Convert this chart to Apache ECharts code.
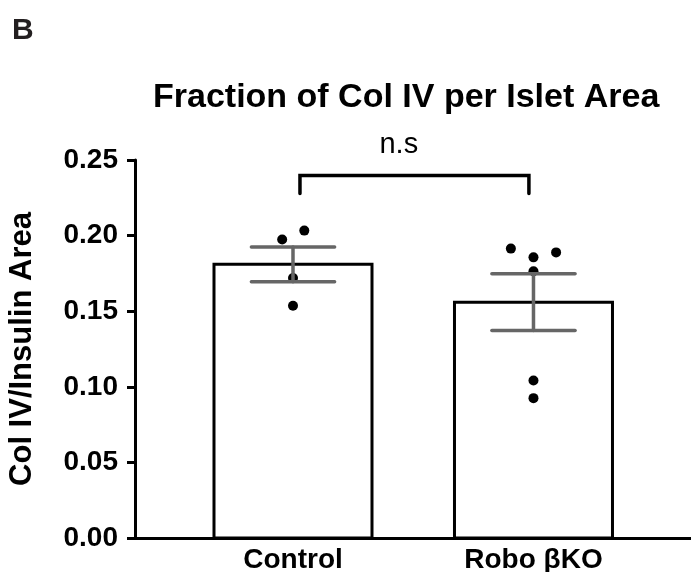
<!DOCTYPE html>
<html>
<head>
<meta charset="utf-8">
<script src="https://cdn.jsdelivr.net/npm/echarts@6/dist/echarts.min.js"></script>
<style>
  html, body { margin: 0; padding: 0; background: #fff; }
  #chart { width: 691px; height: 572px; }
</style>
</head>
<body>
<div id="chart"></div>
<script>
// Group names and summary statistics (mean ± SEM)
const categories = ['Control', 'Robo βKO'];
const barMeans = [0.181, 0.156];
const barSem = [0.0115, 0.0187];

// Individual islet measurements per group
const controlPoints = [0.2033, 0.1974, 0.1720, 0.1536];
const roboPoints = [0.1914, 0.1856, 0.1889, 0.1764, 0.1042, 0.0925];

// Y axis range and tick labels
const yTickLabels = ['0.00', '0.05', '0.10', '0.15', '0.20', '0.25'];
const yMin = 0, yMax = 0.25, yStep = 0.05;

// Statistical comparison label
const significance = 'n.s';

// Horizontal scatter of dots so overlapping values stay visible (category units)
const controlSpread = [0.047, -0.045, 0, 0];
const roboSpread = [-0.094, 0, 0.094, 0, 0, 0];

const FONT = '"Liberation Sans", Arial, Helvetica, sans-serif';
const BAR_HALF = 0.3285;   // half bar width, category units
const CAP_HALF = 0.173;    // half error-cap width
const ERR_COLOR = '#666666';

const chart = echarts.init(document.getElementById('chart'), null, { renderer: 'canvas' });

const barData = barMeans.map((m, i) => [i + 1, m]);
const errData = barMeans.map((m, i) => [i + 1, m - barSem[i], m + barSem[i]]);
const dotData = []
  .concat(controlPoints.map((v, i) => [1 + controlSpread[i], v]))
  .concat(roboPoints.map((v, i) => [2 + roboSpread[i], v]));

const option = {
  animation: false,
  backgroundColor: '#ffffff',
  title: {
    text: 'Fraction of Col IV per Islet Area',
    left: 148,
    top: 76,
    textStyle: { fontFamily: FONT, fontSize: 34, fontWeight: 'bold', color: '#000' }
  },
  graphic: [{
    type: 'text',
    left: 12,
    top: 16,
    style: { text: 'B', font: 'bold 30px ' + FONT, fill: '#231f20' }
  }],
  grid: { left: 135, right: 0, top: 160, bottom: 34, containLabel: false, outerBoundsMode: 'none' },
  xAxis: {
    type: 'value',
    min: 0.343,
    max: 2.655,
    splitLine: { show: false },
    axisTick: { show: false },
    axisLine: { show: true, lineStyle: { color: '#000', width: 3 } },
    axisLabel: {
      customValues: [1, 2],
      formatter: v => categories[Math.round(v) - 1] || '',
      fontFamily: FONT, fontSize: 28, fontWeight: 'bold', color: '#000', margin: 8
    }
  },
  yAxis: {
    type: 'value',
    min: yMin,
    max: yMax,
    interval: yStep,
    name: 'Col IV/Insulin Area',
    nameLocation: 'middle',
    nameGap: 97,
    nameTextStyle: { fontFamily: FONT, fontSize: 31, fontWeight: 'bold', color: '#000' },
    splitLine: { show: false },
    axisLine: { show: true, lineStyle: { color: '#000', width: 3 } },
    axisTick: { show: true, length: 8, lineStyle: { color: '#000', width: 3 } },
    axisLabel: {
      formatter: v => yTickLabels[Math.round((v - yMin) / yStep)],
      fontFamily: FONT, fontSize: 28, fontWeight: 'bold', color: '#000', margin: 17
    }
  },
  series: [
    {
      // open bars with black outline
      type: 'custom',
      data: barData,
      z: 1,
      renderItem: (params, api) => {
        const x = api.value(0), y = api.value(1);
        const tl = api.coord([x - BAR_HALF, y]);
        const br = api.coord([x + BAR_HALF, 0]);
        return {
          type: 'rect',
          shape: { x: tl[0], y: tl[1], width: br[0] - tl[0], height: br[1] - tl[1] },
          style: { fill: '#ffffff', stroke: '#000', lineWidth: 3 }
        };
      }
    },
    {
      // individual measurements
      type: 'scatter',
      data: dotData,
      symbol: 'circle',
      symbolSize: 10,
      itemStyle: { color: '#000', opacity: 1 },
      z: 2
    },
    {
      // SEM error bars
      type: 'custom',
      data: errData,
      z: 3,
      renderItem: (params, api) => {
        const x = api.value(0);
        const lo = api.coord([x, api.value(1)]);
        const hi = api.coord([x, api.value(2)]);
        const capL = api.coord([x - CAP_HALF, 0])[0];
        const capR = api.coord([x + CAP_HALF, 0])[0];
        const st = { stroke: ERR_COLOR, lineWidth: 3.5, lineCap: 'round' };
        return {
          type: 'group',
          children: [
            { type: 'line', shape: { x1: lo[0], y1: lo[1], x2: hi[0], y2: hi[1] }, style: st },
            { type: 'line', shape: { x1: capL, y1: hi[1], x2: capR, y2: hi[1] }, style: st },
            { type: 'line', shape: { x1: capL, y1: lo[1], x2: capR, y2: lo[1] }, style: st }
          ]
        };
      }
    },
    {
      // comparison bracket between the two groups
      type: 'custom',
      data: [[1.029, 1.981, 0.2397, 0.2278]],
      z: 4,
      renderItem: (params, api) => {
        const a = api.coord([api.value(0), api.value(2)]);
        const b = api.coord([api.value(1), api.value(2)]);
        const legY = api.coord([api.value(0), api.value(3)])[1];
        const mid = api.coord([1.44, api.value(2)]);
        return {
          type: 'group',
          children: [
            {
              type: 'polyline',
              shape: { points: [[a[0], legY], a, b, [b[0], legY]] },
              style: { stroke: '#000', lineWidth: 3.5, fill: null, lineCap: 'round', lineJoin: 'miter' }
            },
            {
              type: 'text',
              x: mid[0],
              y: mid[1] - 16,
              style: {
                text: significance, font: '29px ' + FONT, fill: '#000',
                align: 'center', verticalAlign: 'bottom'
              }
            }
          ]
        };
      }
    }
  ]
};

chart.setOption(option);
</script>
</body>
</html>
